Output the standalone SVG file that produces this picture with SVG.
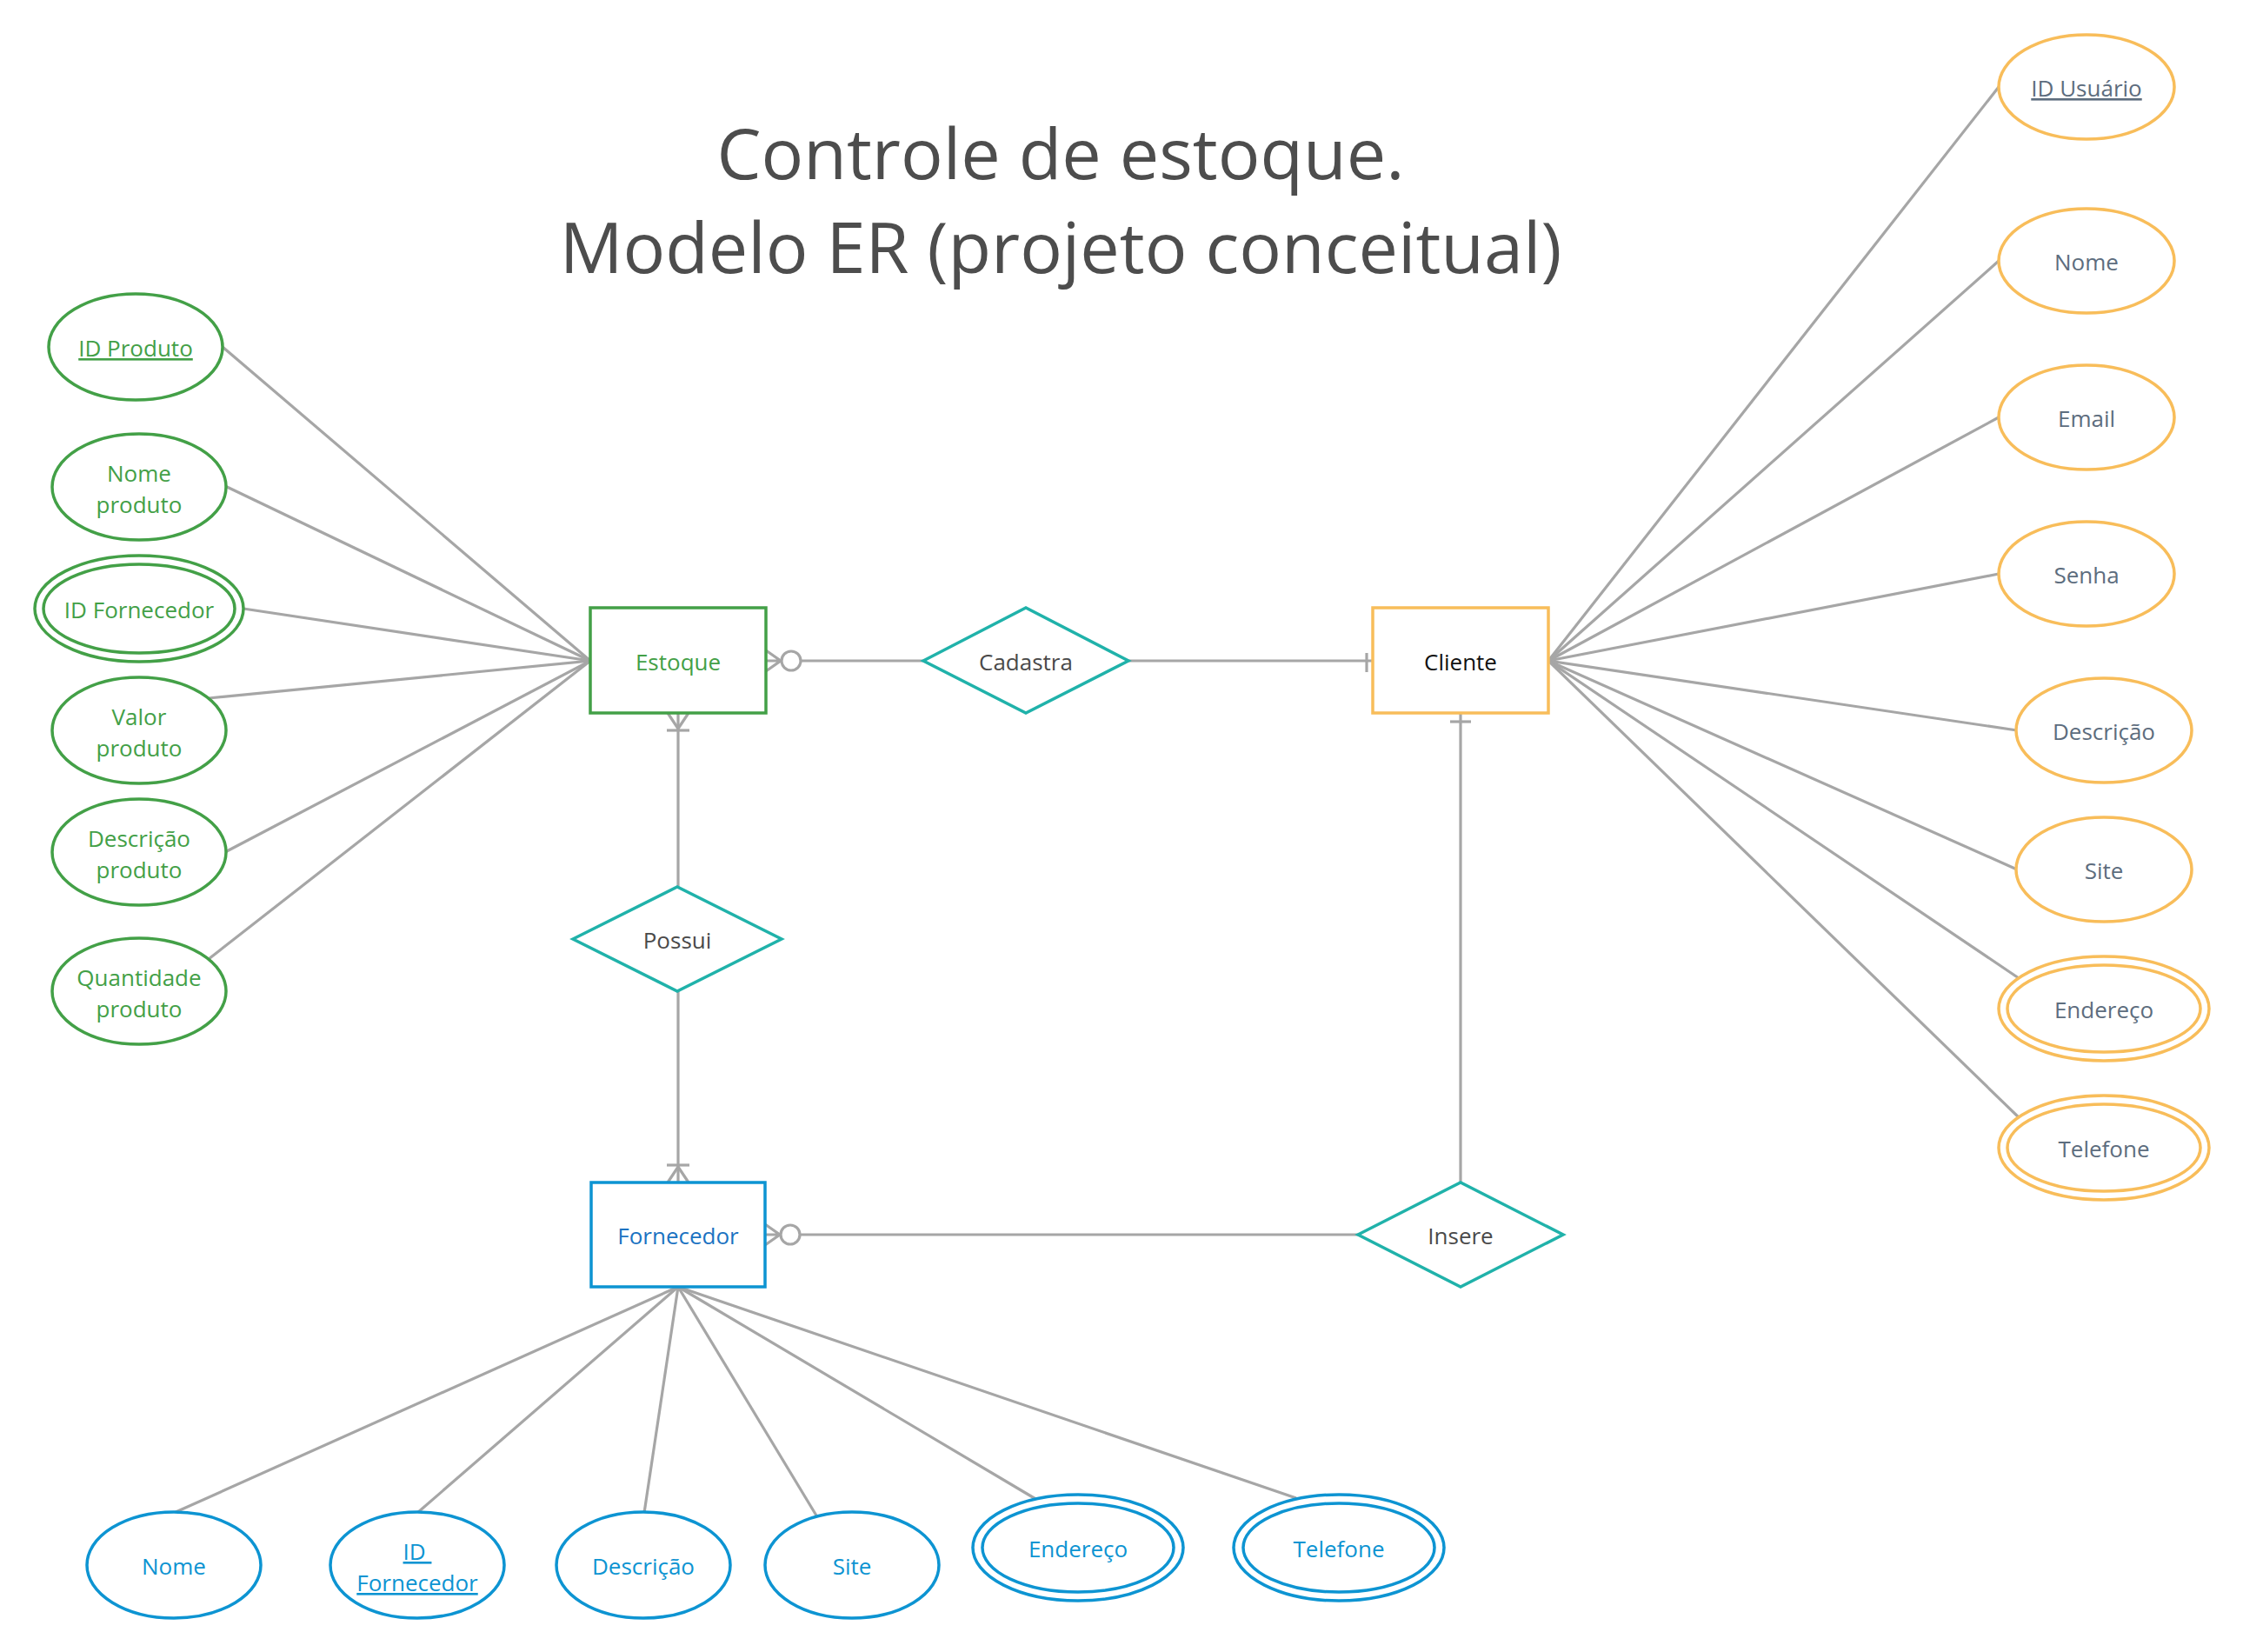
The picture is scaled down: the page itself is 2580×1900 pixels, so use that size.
<svg xmlns="http://www.w3.org/2000/svg" width="2580" height="1900" viewBox="0 0 2580 1900">
<style>
text{font-family:"Open Sans","Noto Sans","Liberation Sans",sans-serif;font-size:26px;text-anchor:middle}
.title{font-size:81px;fill:#4d4d4d}
.conn line,.conn path{stroke:#a6a6a6;stroke-width:3.2;fill:none}
.conn circle{stroke:#a6a6a6;stroke-width:3.2;fill:#fff}
.g{stroke:#43a047;stroke-width:3.5;fill:#fff}
.gt{fill:#43a047}
.o{stroke:#f8bd5a;stroke-width:3.5;fill:#fff}
.ot{fill:#5d6d7e}
.b{stroke:#0d94d2;stroke-width:3.5;fill:#fff}
.bt{fill:#0d94d2}
.r{stroke:#20b2aa;stroke-width:3.5;fill:#fff}
.rt{fill:#4a4a4a}
.u{text-decoration:underline}
</style>
<rect width="2580" height="1900" fill="#fff"/>
<text class="title" x="1220" y="206">Controle de estoque.</text>
<text class="title" x="1220" y="314">Modelo ER (projeto conceitual)</text>

<g class="conn" id="connectors">
<line x1="679" y1="760" x2="256" y2="399"/>
<line x1="679" y1="760" x2="259" y2="559"/>
<line x1="679" y1="760" x2="280" y2="700"/>
<line x1="679" y1="760" x2="240" y2="803"/>
<line x1="679" y1="760" x2="259" y2="980"/>
<line x1="679" y1="760" x2="240" y2="1103"/>
<line x1="1781" y1="760" x2="2299" y2="100"/>
<line x1="1781" y1="760" x2="2299" y2="300"/>
<line x1="1781" y1="760" x2="2299" y2="480"/>
<line x1="1781" y1="760" x2="2299" y2="660"/>
<line x1="1781" y1="760" x2="2320" y2="840"/>
<line x1="1781" y1="760" x2="2320" y2="1000"/>
<line x1="1781" y1="760" x2="2325" y2="1127"/>
<line x1="1781" y1="760" x2="2325" y2="1288"/>
<line x1="780" y1="1480" x2="200" y2="1740"/>
<line x1="780" y1="1480" x2="480" y2="1740"/>
<line x1="780" y1="1480" x2="741" y2="1740"/>
<line x1="780" y1="1480" x2="939" y2="1743"/>
<line x1="780" y1="1480" x2="1193" y2="1725"/>
<line x1="780" y1="1480" x2="1491" y2="1723"/>
<line x1="921" y1="760" x2="1062" y2="760"/>
<path d="M881 748 L898 760 L881 772 M881 760 L899 760"/>
<circle cx="910" cy="760" r="11"/>
<line x1="1298" y1="760" x2="1579" y2="760"/>
<line x1="1572" y1="751" x2="1572" y2="773"/>
<line x1="780" y1="820" x2="780" y2="1020"/>
<path d="M768 820 L780 838 L792 820"/>
<line x1="767" y1="840" x2="793" y2="840"/>
<line x1="780" y1="1140" x2="780" y2="1360"/>
<path d="M768 1360 L780 1342 L792 1360"/>
<line x1="767" y1="1340" x2="793" y2="1340"/>
<line x1="920" y1="1420" x2="1562" y2="1420"/>
<path d="M880 1408 L897 1420 L880 1432 M880 1420 L898 1420"/>
<circle cx="909" cy="1420" r="11"/>
<line x1="1680" y1="820" x2="1680" y2="1360"/>
<line x1="1668" y1="830" x2="1692" y2="830"/>
</g>

<g id="estoque"><rect class="g" x="679" y="699" width="202" height="121"/><text class="gt" x="780" y="771">Estoque</text></g>
<g id="cliente"><rect class="o" x="1579" y="699" width="202" height="121"/><text fill="#111" x="1680" y="771">Cliente</text></g>
<g id="fornecedor"><rect class="b" x="680" y="1360" width="200" height="120"/><text fill="#1b73c2" x="780" y="1431">Fornecedor</text></g>

<g id="cadastra"><polygon class="r" points="1062,760 1180,699 1298,760 1180,820"/><text class="rt" x="1180" y="771">Cadastra</text></g>
<g id="possui"><polygon class="r" points="659,1080 779,1020 899,1080 779,1140"/><text class="rt" x="779" y="1091">Possui</text></g>
<g id="insere"><polygon class="r" points="1562,1420 1680,1360 1798,1420 1680,1480"/><text class="rt" x="1680" y="1431">Insere</text></g>

<g id="a-id-produto"><ellipse class="g" cx="156" cy="399" rx="100" ry="61"/><text class="gt u" x="156" y="410">ID Produto</text></g>
<g id="a-nome-produto"><ellipse class="g" cx="160" cy="560" rx="100" ry="61"/><text class="gt" x="160" y="554">Nome</text><text class="gt" x="160" y="590">produto</text></g>
<g id="a-id-fornecedor"><ellipse class="g" cx="160" cy="700" rx="120" ry="61"/><ellipse class="g" cx="160" cy="700" rx="110" ry="51"/><text class="gt" x="160" y="711">ID Fornecedor</text></g>
<g id="a-valor-produto"><ellipse class="g" cx="160" cy="840" rx="100" ry="61"/><text class="gt" x="160" y="834">Valor</text><text class="gt" x="160" y="870">produto</text></g>
<g id="a-descricao-produto"><ellipse class="g" cx="160" cy="980" rx="100" ry="61"/><text class="gt" x="160" y="974">Descrição</text><text class="gt" x="160" y="1010">produto</text></g>
<g id="a-quantidade-produto"><ellipse class="g" cx="160" cy="1140" rx="100" ry="61"/><text class="gt" x="160" y="1134">Quantidade</text><text class="gt" x="160" y="1170">produto</text></g>

<g id="c-id-usuario"><ellipse class="o" cx="2400" cy="100" rx="101" ry="60"/><text class="ot u" x="2400" y="111">ID Usuário</text></g>
<g id="c-nome"><ellipse class="o" cx="2400" cy="300" rx="101" ry="60"/><text class="ot" x="2400" y="311">Nome</text></g>
<g id="c-email"><ellipse class="o" cx="2400" cy="480" rx="101" ry="60"/><text class="ot" x="2400" y="491">Email</text></g>
<g id="c-senha"><ellipse class="o" cx="2400" cy="660" rx="101" ry="60"/><text class="ot" x="2400" y="671">Senha</text></g>
<g id="c-descricao"><ellipse class="o" cx="2420" cy="840" rx="101" ry="60"/><text class="ot" x="2420" y="851">Descrição</text></g>
<g id="c-site"><ellipse class="o" cx="2420" cy="1000" rx="101" ry="60"/><text class="ot" x="2420" y="1011">Site</text></g>
<g id="c-endereco"><ellipse class="o" cx="2420" cy="1160" rx="121" ry="60"/><ellipse class="o" cx="2420" cy="1160" rx="111" ry="50"/><text class="ot" x="2420" y="1171">Endereço</text></g>
<g id="c-telefone"><ellipse class="o" cx="2420" cy="1320" rx="121" ry="60"/><ellipse class="o" cx="2420" cy="1320" rx="111" ry="50"/><text class="ot" x="2420" y="1331">Telefone</text></g>

<g id="f-nome"><ellipse class="b" cx="200" cy="1800" rx="100" ry="61"/><text class="bt" x="200" y="1811">Nome</text></g>
<g id="f-id-fornecedor"><ellipse class="b" cx="480" cy="1800" rx="100" ry="61"/><text class="bt u" x="480" y="1794" xml:space="preserve">ID </text><text class="bt u" x="480" y="1830">Fornecedor</text></g>
<g id="f-descricao"><ellipse class="b" cx="740" cy="1800" rx="100" ry="61"/><text class="bt" x="740" y="1811">Descrição</text></g>
<g id="f-site"><ellipse class="b" cx="980" cy="1800" rx="100" ry="61"/><text class="bt" x="980" y="1811">Site</text></g>
<g id="f-endereco"><ellipse class="b" cx="1240" cy="1780" rx="121" ry="61"/><ellipse class="b" cx="1240" cy="1780" rx="110" ry="51"/><text class="bt" x="1240" y="1791">Endereço</text></g>
<g id="f-telefone"><ellipse class="b" cx="1540" cy="1780" rx="121" ry="61"/><ellipse class="b" cx="1540" cy="1780" rx="110" ry="51"/><text class="bt" x="1540" y="1791">Telefone</text></g>
</svg>
